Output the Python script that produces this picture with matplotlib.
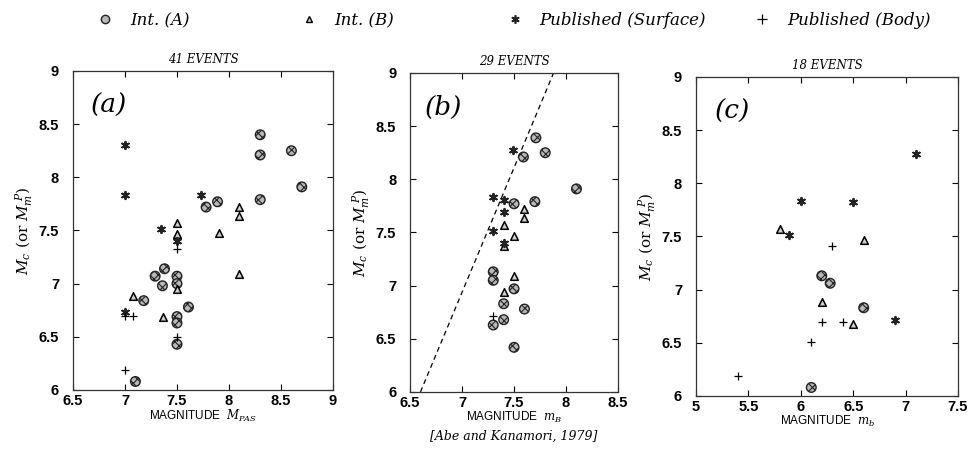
import matplotlib
matplotlib.use("Agg")
import matplotlib.pyplot as plt
from matplotlib.lines import Line2D

plt.rcParams['mathtext.fontset'] = 'dejavuserif'
plt.rcParams['hatch.linewidth'] = 0.8

# ---- panel (a): M_PAS ----
a_intA_x = [8.3, 8.3, 8.6, 8.7, 8.3, 7.78, 7.89, 7.38, 7.29, 7.36, 7.5, 7.5,
            7.18, 7.61, 7.5, 7.5, 7.5, 7.1]
a_intA_y = [8.40, 8.21, 8.25, 7.91, 7.79, 7.72, 7.77, 7.14, 7.07, 6.98, 7.07, 7.00,
            6.84, 6.78, 6.69, 6.63, 6.43, 6.08]
a_intB_x = [8.1, 8.1, 7.9, 8.1, 7.5, 7.5, 7.5, 7.08, 7.37]
a_intB_y = [7.72, 7.64, 7.48, 7.09, 7.57, 7.47, 6.95, 6.88, 6.69]
a_surf_x = [7.0, 7.0, 7.73, 7.35, 7.5, 7.0]
a_surf_y = [8.30, 7.83, 7.83, 7.51, 7.40, 6.73]
a_body_x = [7.5, 7.0, 7.08, 7.5, 7.0]
a_body_y = [7.33, 6.70, 6.70, 6.50, 6.19]

# ---- panel (b): m_B ----
b_intA_x = [7.71, 7.59, 7.80, 8.10, 7.5, 7.7, 7.3, 7.3, 7.5, 7.4, 7.6, 7.4, 7.3, 7.5]
b_intA_y = [8.39, 8.21, 8.25, 7.91, 7.77, 7.79, 7.13, 7.05, 6.97, 6.83, 6.78, 6.68, 6.63, 6.42]
b_intB_x = [7.6, 7.6, 7.4, 7.5, 7.4, 7.5, 7.4]
b_intB_y = [7.72, 7.64, 7.57, 7.47, 7.37, 7.09, 6.94]
b_surf_x = [7.49, 7.3, 7.4, 7.4, 7.3, 7.4]
b_surf_y = [8.28, 7.83, 7.81, 7.69, 7.51, 7.40]
b_body_x = [7.3]
b_body_y = [6.71]
b_line_x = [6.6, 7.88]
b_line_y = [6.0, 9.0]

# ---- panel (c): m_b ----
c_intA_x = [6.2, 6.28, 6.6, 6.1]
c_intA_y = [7.13, 7.06, 6.83, 6.08]
c_intB_x = [5.8, 6.6, 6.2, 6.5]
c_intB_y = [7.57, 7.47, 6.88, 6.68]
c_surf_x = [7.1, 6.0, 6.5, 5.89, 6.9]
c_surf_y = [8.28, 7.83, 7.82, 7.51, 6.71]
c_body_x = [6.3, 6.2, 6.4, 6.1, 5.4]
c_body_y = [7.41, 6.70, 6.70, 6.51, 6.19]

titles = ['41 EVENTS', '29 EVENTS', '18 EVENTS']
tags = ['(a)', '(b)', '(c)']
xlabels = [r'MAGNITUDE  $\mathit{M}_{PAS}$', r'MAGNITUDE  $\mathit{m}_B$',
           r'MAGNITUDE  $\mathit{m}_b$']
xlims = [(6.5, 9), (6.5, 8.5), (5, 7.5)]
xticks = [[6.5, 7, 7.5, 8, 8.5, 9], [6.5, 7, 7.5, 8, 8.5], [5, 5.5, 6, 6.5, 7, 7.5]]
yticks = [6, 6.5, 7, 7.5, 8, 8.5, 9]

panels = [
    (a_intA_x, a_intA_y, a_intB_x, a_intB_y, a_surf_x, a_surf_y, a_body_x, a_body_y),
    (b_intA_x, b_intA_y, b_intB_x, b_intB_y, b_surf_x, b_surf_y, b_body_x, b_body_y),
    (c_intA_x, c_intA_y, c_intB_x, c_intB_y, c_surf_x, c_surf_y, c_body_x, c_body_y),
]
rects = [
    [0.0754, 0.141, 0.2686, 0.7027],
    [0.4236, 0.1366, 0.2149, 0.7027],
    [0.7190, 0.1278, 0.2707, 0.7027],
]

intA_style = dict(marker='o', s=48, facecolor='#b8b8b8', edgecolor='#222222',
                  linewidths=1.0, hatch='xxxx', zorder=3)
intB_style = dict(marker='^', s=30, facecolor='#d0d0d0', edgecolor='black',
                  linewidths=1.1, zorder=3)
surf_style = dict(marker=(6, 2, 0), s=28, color='#222222', linewidths=1.4, zorder=3)
body_style = dict(marker='+', s=30, color='black', linewidths=0.9, zorder=3)

fig = plt.figure(figsize=(9.68, 4.54), dpi=100)
serif = 'DejaVu Serif'

for i, (data, rect) in enumerate(zip(panels, rects)):
    ax = fig.add_axes(rect)
    ax_x, ay_, bx, by, sx, sy, px, py = data
    ax.scatter(ax_x, ay_, **intA_style)
    ax.scatter(bx, by, **intB_style)
    ax.scatter(sx, sy, **surf_style)
    ax.scatter(px, py, **body_style)
    if i == 1:
        ax.plot(b_line_x, b_line_y, ls=(0, (4, 3)), color='black', lw=0.9)

    ax.set_xlim(*xlims[i])
    ax.set_ylim(6, 9)
    ax.set_xticks(xticks[i])
    ax.set_yticks(yticks)
    ax.set_xticklabels([f'{t:g}' for t in xticks[i]])
    ax.set_yticklabels([f'{t:g}' for t in yticks])
    ax.tick_params(direction='in', length=4, width=0.8, top=True, right=True,
                   labelsize=10.5)
    ax.tick_params(axis='x', pad=3)
    ax.tick_params(axis='y', pad=10)
    for lab in ax.get_xticklabels() + ax.get_yticklabels():
        lab.set_fontweight('bold')
        lab.set_fontfamily('Liberation Sans')
    for sp in ax.spines.values():
        sp.set_linewidth(0.9)
        sp.set_color('#333333')

    ax.set_title(titles[i], fontsize=8.5, fontstyle='italic', family=serif, pad=6)
    ax.text(0.07, 0.93, tags[i], transform=ax.transAxes, fontsize=19,
            fontstyle='italic', family=serif, fontweight='light', va='top', ha='left')
    ax.set_xlabel(xlabels[i], fontsize=8.5, family='Liberation Sans', labelpad=0)
    ax.set_ylabel(r'$\mathit{M}_c$ (or $\mathit{M}_m^{\ P}$)', fontsize=11,
                  family=serif, labelpad=3)

fig.text(0.531, 0.04, '[Abe and Kanamori, 1979]', fontsize=9, fontstyle='italic',
         family=serif, ha='center', va='center')

# legend row
leg_items = [
    (Line2D([], [], ls='none', marker='o', ms=6, mfc='#b8b8b8', mec='#222222'), 'Int. (A)', 0.100),
    (Line2D([], [], ls='none', marker='^', ms=5, mfc='#d0d0d0', mec='black'), 'Int. (B)', 0.311),
    (Line2D([], [], ls='none', marker=(6, 2, 0), ms=6, color='#222222', mew=1.2), 'Published (Surface)', 0.523),
    (Line2D([], [], ls='none', marker='+', ms=7, color='black', mew=0.9), 'Published (Body)', 0.779),
]
for handle, label, xpos in leg_items:
    fig.legend(handles=[handle], labels=[label], loc='center left',
               bbox_to_anchor=(xpos, 0.955), frameon=False, handlelength=1.0,
               handletextpad=1.0, borderpad=0, borderaxespad=0,
               prop=dict(family=serif, style='italic', size=12))

fig.savefig('out.png', dpi=100)
